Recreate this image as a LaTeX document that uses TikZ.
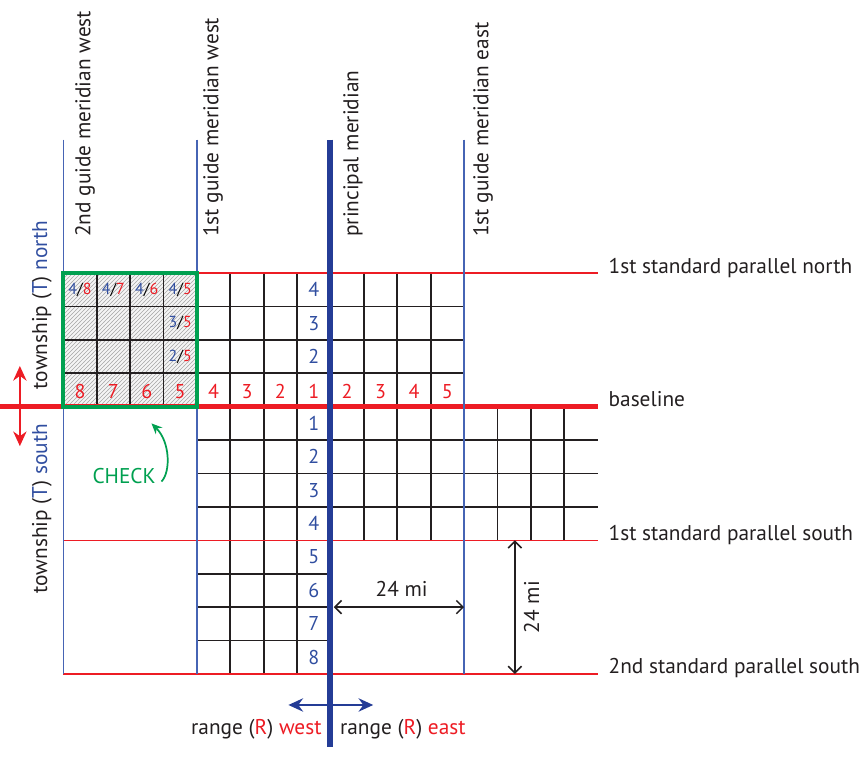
\documentclass[tikz,border=0pt]{standalone}
\usepackage{fontspec}
\setmainfont{PT Sans}
\usetikzlibrary{arrows.meta,patterns}
\definecolor{mred}{RGB}{237,28,36}
\definecolor{mblue}{RGB}{36,60,150}
\definecolor{nblue}{RGB}{48,78,160}
\definecolor{gblue}{RGB}{70,100,180}
\definecolor{mgreen}{RGB}{0,160,80}
\definecolor{ink}{RGB}{35,31,32}
\begin{document}
\begin{tikzpicture}[x=25.05pt,y=25.05pt,
  gridline/.style={ink,line width=1.4pt},
  guide/.style={gblue,line width=1.1pt},
  parallel/.style={mred,line width=1.1pt},
  lbl/.style={font=\fontsize{16}{19}\selectfont,inner sep=0pt,text=ink},
  num/.style={font=\fontsize{15}{17}\selectfont,inner sep=0pt},
  fracn/.style={font=\fontsize{12}{14}\selectfont,inner sep=0pt},
  dimarrow/.style={ink,line width=1.1pt,{Straight Barb[length=5pt,width=10pt]}-{Straight Barb[length=5pt,width=10pt]}},
  bigarrow/.style={line width=1.6pt,{Stealth[length=11pt,width=10pt]}-{Stealth[length=11pt,width=10pt]}}]
\useasboundingbox (-9.895,-10.518) rectangle (16.093,12.177);
% hatched township
\fill[black!4] (-8,0) rectangle (-4,4);
\fill[pattern=north east lines,pattern color=black!35] (-8,0) rectangle (-4,4);
% grid
\foreach \y in {1,2,3} \draw[gridline] (-8,\y) -- (4,\y);
\foreach \x in {-7,-6,-5,-3,-2,-1,1,2,3} \draw[gridline] (\x,0) -- (\x,4);
\foreach \y in {-1,-2,-3} \draw[gridline] (-4,\y) -- (8,\y);
\foreach \x in {-3,-2,-1,1,2,3,5,6,7} \draw[gridline] (\x,0) -- (\x,-4);
\foreach \y in {-5,-6,-7} \draw[gridline] (-4,\y) -- (0,\y);
\foreach \x in {-3,-2,-1} \draw[gridline] (\x,-4) -- (\x,-8);
% parallels
\foreach \y in {4,-4,-8} \draw[parallel] (-8,\y) -- (8,\y);
\draw[mred,line width=3.8pt] (-9.9,0) -- (8,0);
% meridians
\foreach \x in {-8,-4,4} \draw[guide] (\x,8) -- (\x,-8);
\draw[mblue,line width=4.5pt] (0,8) -- (0,-10.2);
% checked township
\draw[mgreen,line width=3pt] (-8,0) rectangle (-4,4);
% meridian labels
\node[lbl,rotate=90,anchor=west] (m2w) at (-7.35,5.08) {2nd guide meridian west};
\node[lbl,rotate=90,anchor=west] (m1w) at (-3.52,5.08) {1st guide meridian west};
\node[lbl,rotate=90,anchor=west] (pm) at (0.67,5.08) {principal meridian};
\node[lbl,rotate=90,anchor=west] (m1e) at (4.57,5.08) {1st guide meridian east};
% parallel labels
\node[lbl,anchor=base west] (p1n) at (8.32,4) {1st standard parallel north};
\node[lbl,anchor=base west] (bl) at (8.32,0) {baseline};
\node[lbl,anchor=base west] (p1s) at (8.32,-4) {1st standard parallel south};
\node[lbl,anchor=base west] (p2s) at (8.32,-8) {2nd standard parallel south};
% township labels
\node[lbl,rotate=90] (tn) at (-8.64,3.05) {township ({\color{nblue}T}) {\color{nblue}north}};
\node[lbl,rotate=90] (ts) at (-8.64,-3.05) {township ({\color{nblue}T}) {\color{nblue}south}};
% township numbers
\foreach \n in {2,3,4} \node[num,text=nblue] (tn\n) at (-0.5,\n-0.5) {\n};
\foreach \n in {1,...,8} \node[num,text=nblue] (tsn\n) at (-0.5,0.5-\n) {\n};
% range numbers
\foreach \n in {1,...,4} \node[num,text=mred] (rw\n) at (0.5-\n,0.45) {\n};
\foreach \n in {5,...,8} \node[num,text=mred] (rw\n) at (0.5-\n,0.45) {\n};
\foreach \n in {2,...,5} \node[num,text=mred] (re\n) at (\n-1.5,0.45) {\n};
% fractions in checked township
\node[fracn] (f48) at (-7.5,3.5) {{\color{nblue}4}/{\color{mred}8}};
\node[fracn] (f47) at (-6.5,3.5) {{\color{nblue}4}/{\color{mred}7}};
\node[fracn] (f46) at (-5.5,3.5) {{\color{nblue}4}/{\color{mred}6}};
\node[fracn] (f45) at (-4.5,3.5) {{\color{nblue}4}/{\color{mred}5}};
\node[fracn] (f35) at (-4.5,2.5) {{\color{nblue}3}/{\color{mred}5}};
\node[fracn] (f25) at (-4.5,1.5) {{\color{nblue}2}/{\color{mred}5}};
% CHECK
\node[lbl,text=mgreen] (chk) at (-6.18,-2.07) {CHECK};
\coordinate (chkA) at (-5.06,-2.24);
\coordinate (chkB) at (-5.36,-0.50);
\draw[mgreen,line width=1.3pt,-{Stealth[length=8pt,width=7pt]}] (chkA) .. controls (-4.78,-1.95) and (-4.8,-1.05) .. (chkB);
% township direction arrow
\coordinate (tup) at (-9.3,1.22);
\coordinate (tdn) at (-9.3,-1.18);
\draw[bigarrow,mred] (tup) -- (tdn);
% range direction arrow
\coordinate (rw) at (-1.26,-8.93);
\coordinate (re) at (1.28,-8.93);
\draw[bigarrow,mblue] (rw) -- (re);
\node[lbl,anchor=base east] (rwl) at (-0.26,-9.80) {range ({\color{mred}R}) {\color{mred}west}};
\node[lbl,anchor=base west] (rel) at (0.28,-9.80) {range ({\color{mred}R}) {\color{mred}east}};
% 24 mi dimensions
\coordinate (dh1) at (0.1,-6);
\coordinate (dh2) at (4,-6);
\draw[dimarrow] (dh1) -- (dh2);
\node[lbl] (dhl) at (2.13,-5.45) {24 mi};
\coordinate (dv1) at (5.52,-4);
\coordinate (dv2) at (5.52,-8);
\draw[dimarrow] (dv1) -- (dv2);
\node[lbl,rotate=90] (dvl) at (6.02,-6) {24 mi};
\end{tikzpicture}
\end{document}
